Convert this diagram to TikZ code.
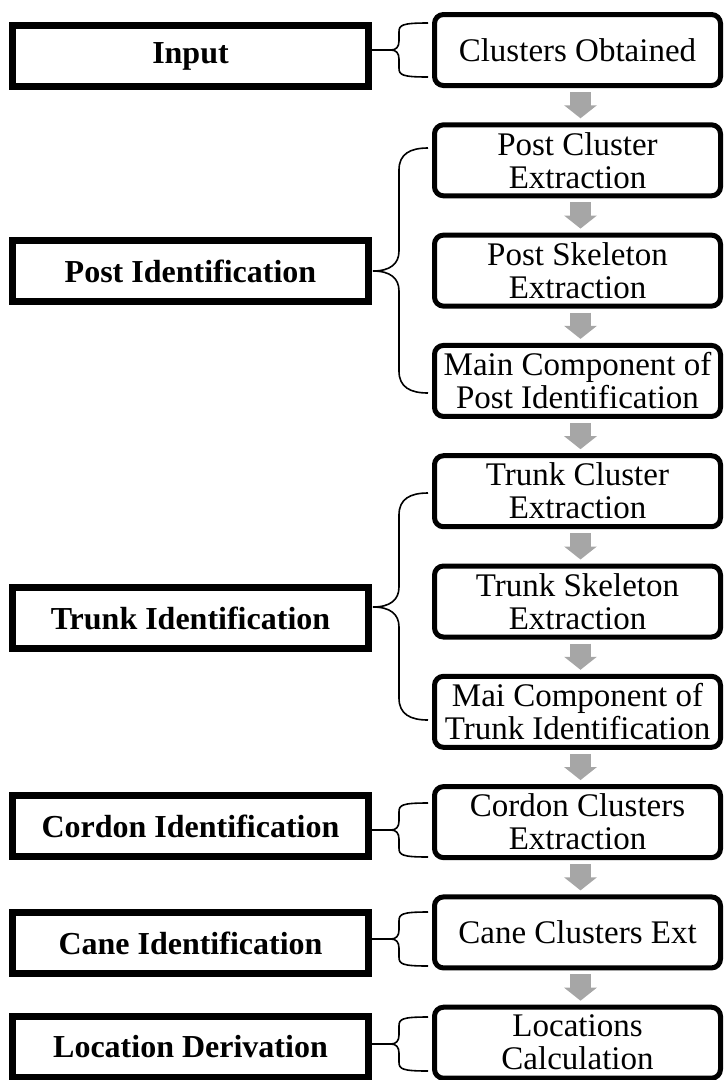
\documentclass[tikz,border=0pt]{standalone}
\usepackage{fontspec}
\setmainfont{Liberation Serif}
\usetikzlibrary{arrows.meta}

\definecolor{arrowgray}{HTML}{A6A6A6}

\tikzset{
  stage/.style={draw, line width=7pt, minimum width=356pt, minimum height=61pt,
    inner sep=0pt, font=\fontsize{32}{37}\selectfont\bfseries, align=center},
  stepbox/.style={draw, line width=5pt, rounded corners=9pt, minimum width=286pt,
    minimum height=71pt, inner sep=0pt, font=\fontsize{33}{33}\selectfont, align=center},
  flow/.style={draw=arrowgray, line width=21pt, shorten <=4pt, shorten >=4pt,
    -{Triangle[width=32pt,length=13pt]}},
  bracket/.style={draw, line width=1.6pt}
}

% curly bracket whose tip touches the stage box (several steps)
\newcommand\widebrace[3]{% tip y, top arm y, bottom arm y
  \draw[bracket] (428,#2) .. controls (410,#2) and (399,#2+6) .. (399,#2+22)
    -- (399,#1-20) .. controls (399,#1-7) and (390,#1) .. (373,#1)
    .. controls (390,#1) and (399,#1+7) .. (399,#1+20)
    -- (399,#3-22) .. controls (399,#3-6) and (410,#3) .. (428,#3);}
% small curly bracket with a short stub (one step)
\newcommand\smallbrace[1]{% tip y
  \draw[bracket] (372,#1) -- (391,#1) .. controls (396,#1) and (399,#1-3) .. (399,#1-9)
    -- (399,#1-18) .. controls (399,#1-25) and (402,#1-27) .. (428,#1-27);
  \draw[bracket] (391,#1) .. controls (396,#1) and (399,#1+3) .. (399,#1+9)
    -- (399,#1+18) .. controls (399,#1+25) and (402,#1+27) .. (428,#1+27);}

\begin{document}
\begin{tikzpicture}[x=1pt,y=-1pt]
\useasboundingbox (0,0) rectangle (724,1080);

% processing steps (right column)
\node[stepbox] (s0) at (577.5,50)   {Clusters Obtained};
\node[stepbox] (s1) at (577.5,160.3) {Post Cluster\\Extraction};
\node[stepbox] (s2) at (577.5,270.6) {Post Skeleton\\Extraction};
\node[stepbox] (s3) at (577.5,380.9) {Main Component of\\Post Identification};
\node[stepbox] (s4) at (577.5,491.2) {Trunk Cluster\\Extraction};
\node[stepbox] (s5) at (577.5,601.5) {Trunk Skeleton\\Extraction};
\node[stepbox] (s6) at (577.5,711.8) {Mai Component of\\Trunk Identification};
\node[stepbox] (s7) at (577.5,822.1) {Cordon Clusters\\Extraction};
\node[stepbox] (s8) at (577.5,932.4) {Cane Clusters Ext};
\node[stepbox] (s9) at (577.5,1042.7) {Locations\\Calculation};

% stages (left column)
\node[stage] (input)  at (190.5,56)   {Input};
\node[stage] (post)   at (190.5,271)  {Post Identification};
\node[stage] (trunk)  at (190.5,618)  {Trunk Identification};
\node[stage] (cordon) at (190.5,826)  {Cordon Identification};
\node[stage] (cane)   at (190.5,943)  {Cane Identification};
\node[stage] (loc)    at (190.5,1047) {Location Derivation};

% block arrows between steps
\foreach \a/\b in {s0/s1,s1/s2,s2/s3,s3/s4,s4/s5,s5/s6,s6/s7,s7/s8,s8/s9}
  \draw[flow] ([xshift=3pt]\a.south) -- ([xshift=3pt]\b.north);

% brackets joining stages to their steps
\smallbrace{50}
\widebrace{271}{148}{393}
\widebrace{607}{493}{720}
\smallbrace{830}
\smallbrace{939}
\smallbrace{1044}
\end{tikzpicture}
\end{document}
